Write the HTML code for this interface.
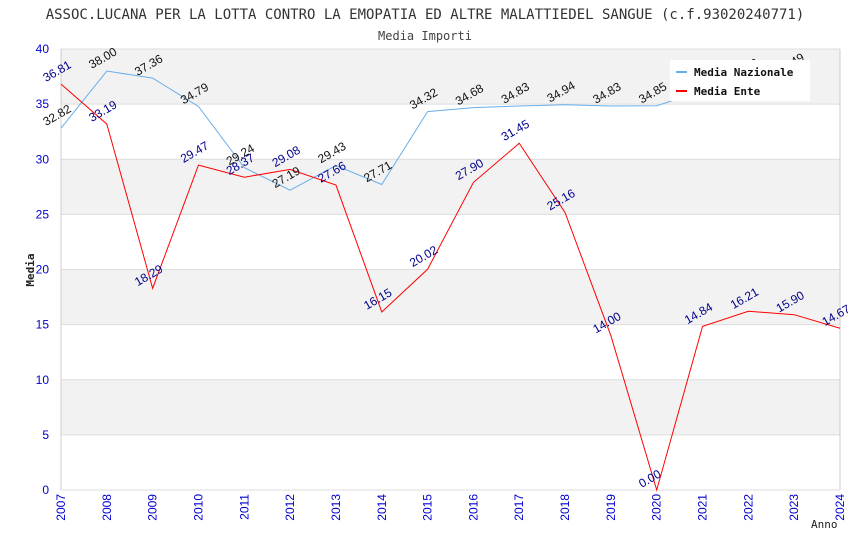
<!DOCTYPE html>
<html><head><meta charset="utf-8"><style>
body{margin:0;background:#fff;}
svg{display:block;}
</style></head><body>
<svg id="chart" width="850" height="550" xmlns="http://www.w3.org/2000/svg">
<text x="425" y="19" text-anchor="middle" font-family="DejaVu Sans Mono, Liberation Mono, monospace" font-size="14" fill="#333">ASSOC.LUCANA PER LA LOTTA CONTRO LA EMOPATIA ED ALTRE MALATTIEDEL SANGUE (c.f.93020240771)</text>
<text x="425" y="40" text-anchor="middle" font-family="DejaVu Sans Mono, Liberation Mono, monospace" font-size="12" fill="#444">Media Importi</text>
<g id="bands"></g><g id="grid"></g><g id="axes"></g><g id="series"></g><g id="labels"></g>
<text x="34" y="270" transform="rotate(-90 34 270)" text-anchor="middle" font-family="DejaVu Sans Mono, monospace" font-size="11" font-weight="bold" fill="#222">Media</text>
<text x="811" y="528" font-family="DejaVu Sans Mono, monospace" font-size="11" fill="#222">Anno</text>
<g>
<rect x="670" y="60" width="140" height="41" fill="#fff"/>
<line x1="676" y1="72" x2="687" y2="72" stroke="#6aaee8" stroke-width="2"/>
<text x="694" y="76" font-family="DejaVu Sans Mono, monospace" font-size="11" font-weight="bold" fill="#111">Media Nazionale</text>
<line x1="676" y1="91" x2="687" y2="91" stroke="#f00" stroke-width="2"/>
<text x="694" y="95" font-family="DejaVu Sans Mono, monospace" font-size="11" font-weight="bold" fill="#111">Media Ente</text>
</g>
</svg>
<script>
const years=[2007,2008,2009,2010,2011,2012,2013,2014,2015,2016,2017,2018,2019,2020,2021,2022,2023,2024];
const nazionale=[32.82,38.00,37.36,34.79,29.24,27.19,29.43,27.71,34.32,34.68,34.83,34.94,34.83,34.85,36.2,37.0,37.49,null];
const ente=[36.81,33.19,18.29,29.47,28.37,29.08,27.66,16.15,20.02,27.90,31.45,25.16,14.00,0.00,14.84,16.21,15.90,14.67];
const yTicks=[0,5,10,15,20,25,30,35,40];
const NS="http://www.w3.org/2000/svg";
const L=61,R=840,T=49,B=490;
const xs=i=>L+(R-L)*i/(years.length-1);
const ys=v=>B-(B-T)*v/40;
function mk(tag,attrs,parent){const e=document.createElementNS(NS,tag);for(const k in attrs)e.setAttribute(k,attrs[k]);document.getElementById(parent).appendChild(e);return e;}
for(let i=0;i<yTicks.length-1;i++){
  if(i%2===1){const r=mk('rect',{x:L,y:ys(yTicks[i+1]),width:R-L,height:ys(yTicks[i])-ys(yTicks[i+1]),fill:'#f2f2f2'},'bands');
  
  }
}
yTicks.forEach(t=>{
  const l=mk('line',{x1:L,x2:R,y1:ys(t),y2:ys(t),stroke:'#ddd'},'grid');
  
  
  const tx=mk('text',{x:L-12,y:ys(t)+4,'text-anchor':'end','font-family':'Liberation Sans, sans-serif','font-size':12,fill:'#00c'},'axes');
  tx.textContent=t;
  
  
});
mk('line',{x1:L,x2:L,y1:T,y2:B,stroke:'#ccc'},'axes');
mk('line',{x1:R,x2:R,y1:T,y2:B,stroke:'#ccc'},'axes');
years.forEach((y,i)=>{
  const x=xs(i);
  const tx=mk('text',{x:x+4,y:B+4,transform:`rotate(-90 ${x+4} ${B+4})`,'text-anchor':'end','font-family':'Liberation Sans, sans-serif','font-size':12,fill:'#00c'},'axes');
  tx.textContent=y;
  
  
});
function series(vals,color,lblColor,name){
  let d='';vals.forEach((v,i)=>{if(v===null)return;d+=(d?'L':'M')+xs(i)+' '+ys(v);});
  const p=mk('path',{d:d,fill:'none',stroke:color,'stroke-width':1},'series');
  
  
  vals.forEach((v,i)=>{if(v===null)return;
    const x=xs(i)-15,y=ys(v)-2;
    const t=mk('text',{x:x,y:y,transform:`rotate(-30 ${x} ${y})`,'font-family':'Liberation Sans, sans-serif','font-size':12,fill:lblColor},'labels');
    t.textContent=v.toFixed(2);
    
    
  });
}
series(nazionale,'#6aaee8','#111','nazionale');
series(ente,'#f00','#00008b','ente');
</script>
</body></html>
